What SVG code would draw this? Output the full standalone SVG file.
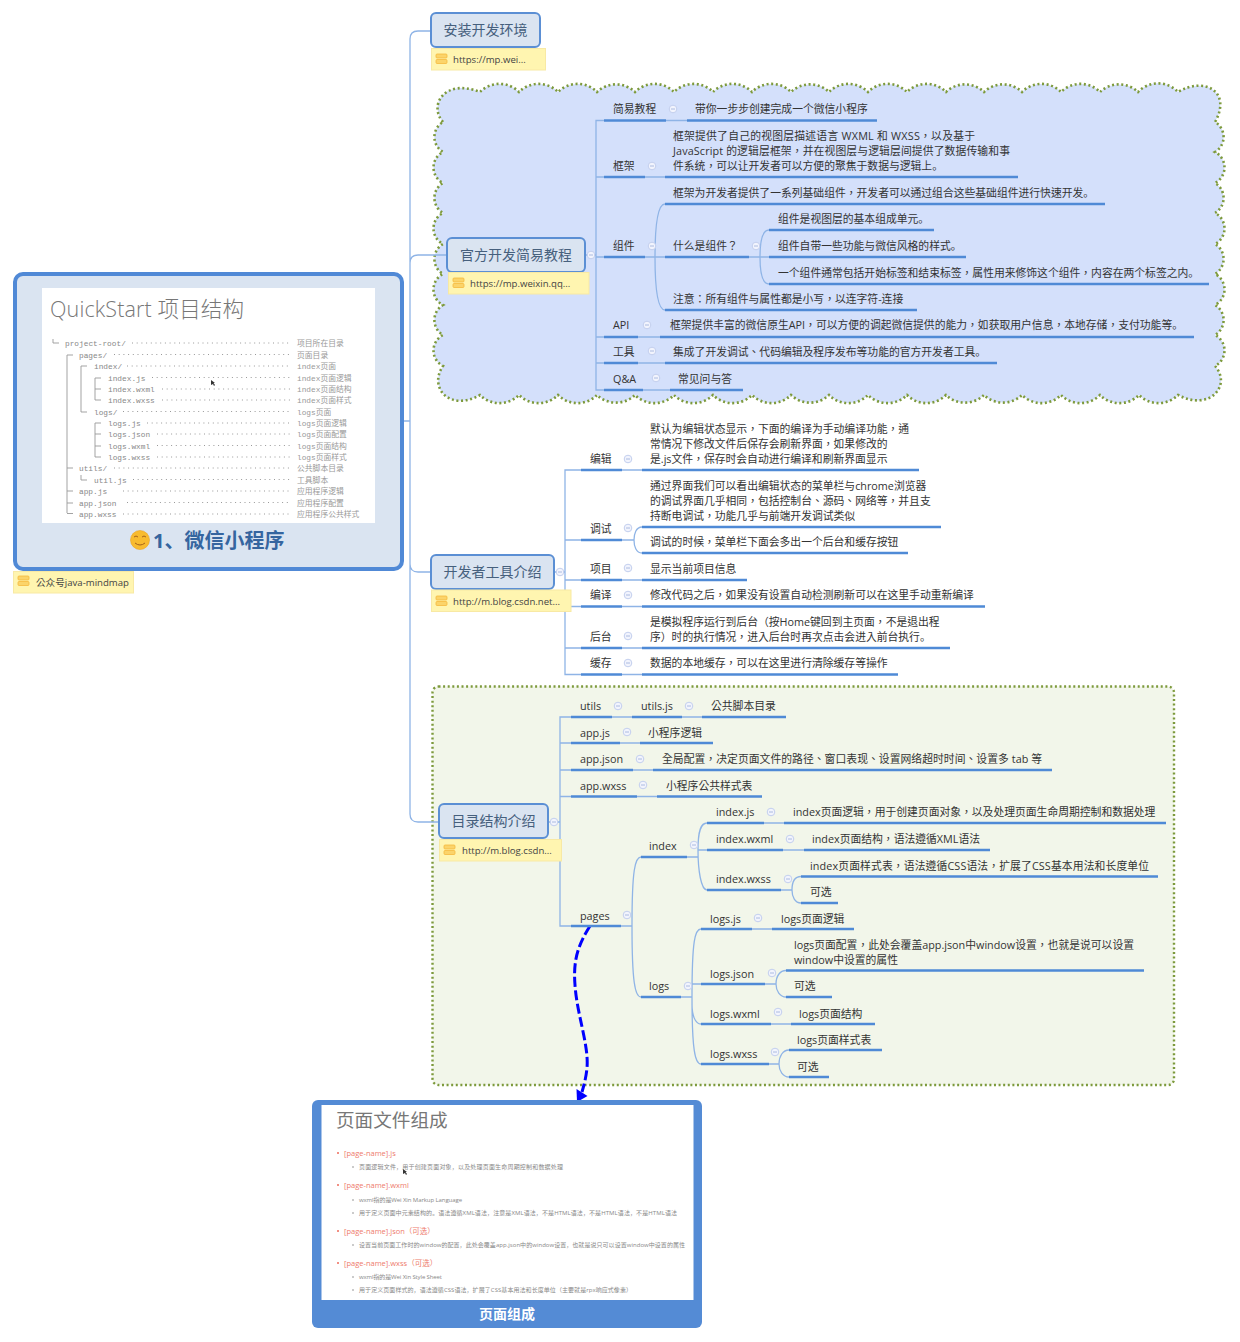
<svg xmlns="http://www.w3.org/2000/svg" width="1240" height="1342" viewBox="0 0 1240 1342">
<style>
text{font-family:"Open Sans","Noto Sans CJK TC",sans-serif;font-size:10.8px;fill:#333}
g[id^="n-"]>text{transform:translateY(-.2px)}
.sc,.sm,.rd,.cap{font-family:"Open Sans","Noto Sans CJK SC",sans-serif}
.u{stroke:#4f8ad6;stroke-width:2.4;fill:none}
.l{stroke:#8fb4e6;stroke-width:1.3;fill:none}
.n{fill:#dae4f1;stroke:#5b8fd4;stroke-width:2}
.nt{font-size:14px;fill:#46607d;text-anchor:middle}
.note{fill:#fff5b0;stroke:#f8e9a4;stroke-width:1}
.nn{font-size:9.6px;fill:#444}
.cir{fill:#f2f4fd;stroke:#c3cfee;stroke-width:1}
.cim{stroke:#a3b4dc;stroke-width:.9}
.mono,.zh{font-family:"Liberation Mono","Noto Sans CJK SC",monospace;font-size:7.8px;fill:#888}
.zh{fill:#999}
.tr{stroke:#999;stroke-width:.9;fill:none}
.dots{stroke:#999;stroke-width:1;stroke-dasharray:1 3.7;fill:none}
.rd{font-size:7.5px;fill:#ee7b6c}
.sm{font-size:6px;fill:#888}
.ic{fill:#fbd46a;stroke:#f5b93c;stroke-width:.8}
</style>
<defs>
<g id="c"><circle class="cir" r="3.8"/><path class="cim" d="M-2 0H2"/></g>
<g id="ni"><rect class="ic" x="0" y="0" width="11" height="4" rx="1"/><rect class="ic" x="0" y="5.5" width="11" height="4" rx="1"/></g>
</defs>

<path id="cloud" fill="#d4e0fb" stroke="#7d9a3c" stroke-width="2.6" stroke-dasharray="2 2.6" d="M443 122 C428 105 445 78 480 92 A27.5 27.5 0 0 1 519 92 A27.5 27.5 0 0 1 558 92 A27.5 27.5 0 0 1 597 92 A27.5 27.5 0 0 1 635 92 A27.5 27.5 0 0 1 674 92 A27.5 27.5 0 0 1 713 92 A27.5 27.5 0 0 1 752 92 A27.5 27.5 0 0 1 791 92 A27.5 27.5 0 0 1 829 92 A27.5 27.5 0 0 1 868 92 A27.5 27.5 0 0 1 907 92 A27.5 27.5 0 0 1 946 92 A27.5 27.5 0 0 1 984 92 A27.5 27.5 0 0 1 1022 92 A27.5 27.5 0 0 1 1061 92 A27.5 27.5 0 0 1 1100 92 A27.5 27.5 0 0 1 1138 92 A27.5 27.5 0 0 1 1178 92 C1205 76 1232 92 1215 122 A17.4 17.4 0 0 1 1215 152 A17.4 17.4 0 0 1 1215 183 A17.4 17.4 0 0 1 1215 213 A17.4 17.4 0 0 1 1215 244 A17.4 17.4 0 0 1 1215 274 A17.4 17.4 0 0 1 1215 305 A17.4 17.4 0 0 1 1215 335 A17.4 17.4 0 0 1 1215 366 C1232 385 1210 412 1178 395 A27.5 27.5 0 0 1 1139 395 A27.5 27.5 0 0 1 1100 395 A27.5 27.5 0 0 1 1061 395 A27.5 27.5 0 0 1 1022 395 A27.5 27.5 0 0 1 984 395 A27.5 27.5 0 0 1 946 395 A27.5 27.5 0 0 1 907 395 A27.5 27.5 0 0 1 868 395 A27.5 27.5 0 0 1 829 395 A27.5 27.5 0 0 1 791 395 A27.5 27.5 0 0 1 752 395 A27.5 27.5 0 0 1 713 395 A27.5 27.5 0 0 1 674 395 A27.5 27.5 0 0 1 635 395 A27.5 27.5 0 0 1 597 395 A27.5 27.5 0 0 1 558 395 A27.5 27.5 0 0 1 519 395 A27.5 27.5 0 0 1 480 395 C450 412 428 388 443 366 A17.4 17.4 0 0 1 443 335 A17.4 17.4 0 0 1 443 305 A17.4 17.4 0 0 1 443 274 A17.4 17.4 0 0 1 443 244 A17.4 17.4 0 0 1 443 213 A17.4 17.4 0 0 1 443 183 A17.4 17.4 0 0 1 443 152 A17.4 17.4 0 0 1 443 122Z"/>
<rect id="greenbox" x="432.500" y="686.500" width="741.500" height="398.500" rx="6" fill="#f2f6ea" stroke="#7d9a3c" stroke-width="2.4" stroke-dasharray="2 2.6"/>

<g id="connectors">
<path class="l" d="M402 421H410M431 31H418Q410 31 410 39V814Q410 822 418 822H438M447 255H418Q410 255 410 263M430 572H418Q410 572 410 564"/>
<path class="l" d="M585 255H596M604 120.500H596V390H604M596 177H604M596 257H604M596 337H604M596 363H604"/>
<path class="l" d="M666 120.500H687M645 177H665M645 257H665M665 204C658 204 655 225 655 257C655 289 658 310 665 310M749 257H769M769 230C762 230 760 243 760 257C760 271 762 284 769 284M638 337H660M638 363H665M643 390H670"/>
<path class="l" d="M554 572H565M581 470H565V674.500H581M565 540H581M565 580H581M565 606.500H581M565 648H581"/>
<path class="l" d="M622 470H642M622 540H634M642 527C636 527 634 534 634 540C634 546 636 553 642 553M622 580H642M622 606.500H642M622 648H642M622 674.500H642"/>
<path class="l" d="M548 822H560M571 717H560V926H571M560 743H571M560 770H571M560 796.500H571"/>
<path class="l" d="M612 717H632M682 717H702M620 743H640M633 770H653M637 796.500H657"/>
<path class="l" d="M621 926H632M641 857C635 857 632 870 632 926C632 982 635 997 641 997M687 857H698M707 823C701 823 698 830 698 850C698 870 701 890 707 890M698 850H707M764 823H784M783 850H804M781 890H792M801 876.500C795 876.500 792 882 792 890C792 897 795 903 801 903"/>
<path class="l" d="M681 997H692M701 929C695 929 692 940 692 997C692 1050 695 1064 701 1064M692 984H701M692 1004C692 1015 695 1024 701 1024M752 929H772M765 984H776M786 970.500C780 970.500 776 976 776 984C776 991 780 997 786 997M771 1024H791M769 1064H779M789 1050C783 1050 779 1056 779 1064C779 1071 783 1077 789 1077"/>
<path d="M590 926C578 945 573 960 575 985C577 1015 589 1045 587 1068C586 1078 584 1085 582 1092" fill="none" stroke="#0000ff" stroke-width="3" stroke-dasharray="10 3.500"/>
<polygon points="576.500,1089 587.500,1096 577,1102" fill="#0000ff"/>
</g>

<g id="root">
<rect x="15" y="274" width="387" height="295" rx="8" fill="#dae4f1" stroke="#5089d6" stroke-width="4"/>
<rect x="42" y="288" width="333" height="235" fill="#fff"/>
<text class="cap" x="50" y="317" textLength="194" style="font-size:21.500px;fill:#777;font-weight:300">QuickStart 项目结构</text>
<path class="tr" d="M53 339V343H59M67 355V513M67 355H73M67 468H73M67 491H73M67 503H73M67 513.500H73M81 366V412M81 366H87M81 412H87M95 378V400M95 378H101M95 389H101M95 400H101M95 423V457M95 423H101M95 434H101M95 446H101M95 457H101M81 475V480H87"/>
<path class="dots" d="M132 343H291M114 354.500H291M127 366H291M152 377.500H291M162 389H291M162 400H291M123 411.500H291M147 423H291M157 434H291M157 445.500H291M157 457H291M114 468H291M133 479.500H291M123 491H291M127 502.500H291M123 514H291"/>
<text class="mono" x="65" y="346">project-root/</text><text class="zh" x="297" y="346">项目所在目录</text>
<text class="mono" x="79" y="358">pages/</text><text class="zh" x="297" y="358">页面目录</text>
<text class="mono" x="94" y="369">index/</text><text class="zh" x="297" y="369">index页面</text>
<text class="mono" x="108" y="381">index.js</text><text class="zh" x="297" y="381">index页面逻辑</text>
<text class="mono" x="108" y="392">index.wxml</text><text class="zh" x="297" y="392">index页面结构</text>
<text class="mono" x="108" y="403">index.wxss</text><text class="zh" x="297" y="403">index页面样式</text>
<text class="mono" x="94" y="415">logs/</text><text class="zh" x="297" y="415">logs页面</text>
<text class="mono" x="108" y="426">logs.js</text><text class="zh" x="297" y="426">logs页面逻辑</text>
<text class="mono" x="108" y="437">logs.json</text><text class="zh" x="297" y="437">logs页面配置</text>
<text class="mono" x="108" y="449">logs.wxml</text><text class="zh" x="297" y="449">logs页面结构</text>
<text class="mono" x="108" y="460">logs.wxss</text><text class="zh" x="297" y="460">logs页面样式</text>
<text class="mono" x="79" y="471">utils/</text><text class="zh" x="297" y="471">公共脚本目录</text>
<text class="mono" x="94" y="483">util.js</text><text class="zh" x="297" y="483">工具脚本</text>
<text class="mono" x="79" y="494">app.js</text><text class="zh" x="297" y="494">应用程序逻辑</text>
<text class="mono" x="79" y="506">app.json</text><text class="zh" x="297" y="506">应用程序配置</text>
<text class="mono" x="79" y="517">app.wxss</text><text class="zh" x="297" y="517">应用程序公共样式</text>
<polygon points="211,380 211,385 213,384 214,386 215,385 213.500,383 215,383" fill="#333"/>
<circle cx="140" cy="540" r="9.500" fill="#f8bb2e" stroke="#eda21c" stroke-width=".6"/>
<path d="M134 537q2-2 4 0M142 537q2-2 4 0M135 543q5 4 10 0" fill="none" stroke="#a5621a" stroke-width="1"/>
<text class="cap" x="153" y="548" style="font-size:20px;font-weight:700;fill:#35659f">1、微信小程序</text>
<rect class="note" x="13.500" y="571.500" width="120" height="21.500"/>
<use href="#ni" x="18" y="576"/>
<text class="nn" x="36" y="586">公众号java-mindmap</text>
</g>

<g id="n-install">
<rect class="n" x="431" y="13" width="109" height="34" rx="5"/><text class="nt" x="485.500" y="35.500">安装开发环境</text>
<rect class="note" x="431.500" y="48.500" width="114" height="21.500"/><use href="#ni" x="436" y="54"/>
<text class="nn" x="453" y="63">https://mp.wei...</text>
</g>
<g id="n-official">
<rect class="n" x="447" y="238" width="138" height="34" rx="5"/><text class="nt" x="516" y="260">官方开发简易教程</text>
<rect class="note" x="448.500" y="272.500" width="140.500" height="21.500"/><use href="#ni" x="453" y="278"/>
<text class="nn" x="470" y="287">https://mp.weixin.qq...</text>
<use href="#c" x="591" y="255"/>
</g>
<g id="n-devtools">
<rect class="n" x="431" y="555" width="123" height="34" rx="5"/><text class="nt" x="492.500" y="577">开发者工具介绍</text>
<rect class="note" x="431.500" y="590" width="139.500" height="21.500"/><use href="#ni" x="436" y="596"/>
<text class="nn" x="453" y="605">http://m.blog.csdn.net...</text>
<use href="#c" x="560" y="572"/>
</g>
<g id="n-dirs">
<rect class="n" x="439" y="804" width="109" height="34" rx="5"/><text class="nt" x="493.500" y="826">目录结构介绍</text>
<rect class="note" x="439.500" y="839.500" width="122" height="21.500"/><use href="#ni" x="444" y="845"/>
<text class="nn" x="462" y="854">http://m.blog.csdn...</text>
<use href="#c" x="554" y="822"/>
</g>

<g id="n-tut"><path class="u" d="M604 120.500H666M687 120.500H877"/><text x="613" y="113">简易教程</text><use href="#c" x="673" y="109"/><text x="695" y="113">带你一步步创建完成一个微信小程序</text></g>
<g id="n-frame"><path class="u" d="M604 177H645M665 177H1018"/><text x="613" y="170">框架</text><use href="#c" x="652" y="166"/>
<text x="673" y="140" textLength="302">框架提供了自己的视图层描述语言 WXML 和 WXSS，以及基于</text><text x="673" y="155" textLength="337">JavaScript 的逻辑层框架，并在视图层与逻辑层间提供了数据传输和事</text><text x="673" y="170">件系统，可以让开发者可以方便的聚焦于数据与逻辑上<tspan class="sc">。</tspan></text></g>
<g id="n-comp"><path class="u" d="M604 257H645M665 204H1105M665 257H749M769 230H934M769 257H966M769 284H1209M665 310H917"/><text x="613" y="250">组件</text><use href="#c" x="652" y="246"/>
<text x="673" y="197">框架为开发者提供了一系列基础组件，开发者可以通过组合这些基础组件进行快速开发<tspan class="sc">。</tspan></text>
<text x="673" y="250">什么是组件？</text><use href="#c" x="756" y="246"/>
<text x="778" y="223">组件是视图层的基本组成单元<tspan class="sc">。</tspan></text><text x="778" y="250">组件自带一些功能与微信风格的样式<tspan class="sc">。</tspan></text><text x="778" y="277">一个组件通常包括开始标签和结束标签，属性用来修饰这个组件，内容在两个标签之内<tspan class="sc">。</tspan></text>
<text x="673" y="303">注意：所有组件与属性都是小写，以连字符-连接</text></g>
<g id="n-api"><path class="u" d="M604 337H638M660 337H1194"/><text x="613" y="329">API</text><use href="#c" x="647" y="325"/><text x="670" y="329">框架提供丰富的微信原生API，可以方便的调起微信提供的能力，如获取用户信息，本地存储，支付功能等<tspan class="sc">。</tspan></text></g>
<g id="n-tools"><path class="u" d="M604 363H638M665 363H997"/><text x="613" y="356">工具</text><use href="#c" x="652" y="351"/><text x="673" y="356">集成了开发调试、代码编辑及程序发布等功能的官方开发者工具<tspan class="sc">。</tspan></text></g>
<g id="n-qa"><path class="u" d="M604 390H643M670 390H743"/><text x="613" y="383">Q&amp;A</text><use href="#c" x="656" y="378"/><text x="678" y="383">常见问与答</text></g>

<g id="n-edit"><path class="u" d="M581 470H622M642 470H919"/><text x="590" y="463">编辑</text><use href="#c" x="628" y="459"/><text x="650" y="433">默认为编辑状态显示，下面的编译为手动编译功能，通</text><text x="650" y="448">常情况下修改文件后保存会刷新界面，如果修改的</text><text x="650" y="463">是.js文件，保存时会自动进行编译和刷新界面显示</text></g>
<g id="n-debug"><path class="u" d="M581 540H622M642 527H941M642 553H908"/><text x="590" y="533">调试</text><use href="#c" x="628" y="528"/><text x="650" y="490">通过界面我们可以看出编辑状态的菜单栏与chrome浏览器</text><text x="650" y="505">的调试界面几乎相同，包括控制台、源码、网络等，并且支</text><text x="650" y="520">持断电调试，功能几乎与前端开发调试类似</text><text x="650" y="546">调试的时候，菜单栏下面会多出一个后台和缓存按钮</text></g>
<g id="n-proj"><path class="u" d="M581 580H622M642 580H747"/><text x="590" y="573">项目</text><use href="#c" x="628" y="568"/><text x="650" y="573">显示当前项目信息</text></g>
<g id="n-comp2"><path class="u" d="M581 606.500H622M642 606.500H985"/><text x="590" y="599">编译</text><use href="#c" x="628" y="595"/><text x="650" y="599">修改代码之后，如果没有设置自动检测刷新可以在这里手动重新编译</text></g>
<g id="n-bg"><path class="u" d="M581 648H622M642 648H950"/><text x="590" y="641">后台</text><use href="#c" x="628" y="636"/><text x="650" y="626">是模拟程序运行到后台（按Home键回到主页面，不是退出程</text><text x="650" y="641">序）时的执行情况，进入后台时再次点击会进入前台执行<tspan class="sc">。</tspan></text></g>
<g id="n-cache"><path class="u" d="M581 674.500H622M642 674.500H898"/><text x="590" y="667">缓存</text><use href="#c" x="628" y="663"/><text x="650" y="667">数据的本地缓存，可以在这里进行清除缓存等操作</text></g>

<g id="n-utils"><path class="u" d="M571 717H612M632 717H682M702 717H786"/><text x="580" y="710">utils</text><use href="#c" x="618" y="706"/><text x="641" y="710">utils.js</text><use href="#c" x="689" y="706"/><text x="711" y="710">公共脚本目录</text></g>
<g id="n-appjs"><path class="u" d="M571 743H620M640 743H713"/><text x="580" y="737">app.js</text><use href="#c" x="627" y="732"/><text x="648" y="737">小程序逻辑</text></g>
<g id="n-appjson"><path class="u" d="M571 770H633M653 770H1052"/><text x="580" y="763">app.json</text><use href="#c" x="640" y="759"/><text x="662" y="763" textLength="380">全局配置，决定页面文件的路径、窗口表现、设置网络超时时间、设置多 tab 等</text></g>
<g id="n-appwxss"><path class="u" d="M571 796.500H637M657 796.500H762"/><text x="580" y="790">app.wxss</text><use href="#c" x="643" y="785"/><text x="666" y="790">小程序公共样式表</text></g>
<g id="n-pages"><path class="u" d="M571 926H621"/><text x="580" y="920">pages</text><use href="#c" x="627" y="915"/></g>
<g id="n-index"><path class="u" d="M641 857H687"/><text x="649" y="850">index</text><use href="#c" x="694" y="845"/></g>
<g id="n-indexjs"><path class="u" d="M707 823H764M784 823H1166"/><text x="716" y="816">index.js</text><use href="#c" x="771" y="812"/><text x="793" y="816">index页面逻辑，用于创建页面对象，以及处理页面生命周期控制和数据处理</text></g>
<g id="n-indexwxml"><path class="u" d="M707 850H783M804 850H990"/><text x="716" y="843">index.wxml</text><use href="#c" x="790" y="839"/><text x="812" y="843">index页面结构，语法遵循XML语法</text></g>
<g id="n-indexwxss"><path class="u" d="M707 890H781M801 876.500H1158M801 903H838"/><text x="716" y="883">index.wxss</text><use href="#c" x="788" y="879"/><text x="810" y="870" textLength="339">index页面样式表，语法遵循CSS语法，扩展了CSS基本用法和长度单位</text><text x="810" y="896">可选</text></g>
<g id="n-logs"><path class="u" d="M641 997H681"/><text x="649" y="990">logs</text><use href="#c" x="688" y="986"/></g>
<g id="n-logsjs"><path class="u" d="M701 929H752M772 929H854"/><text x="710" y="923">logs.js</text><use href="#c" x="758" y="918"/><text x="781" y="923">logs页面逻辑</text></g>
<g id="n-logsjson"><path class="u" d="M701 984H765M786 970.500H1144M786 997H832"/><text x="710" y="978">logs.json</text><use href="#c" x="772" y="973"/><text x="794" y="949">logs页面配置，此处会覆盖app.json中window设置，也就是说可以设置</text><text x="794" y="964">window中设置的属性</text><text x="794" y="990">可选</text></g>
<g id="n-logswxml"><path class="u" d="M701 1024H771M791 1024H875"/><text x="710" y="1018">logs.wxml</text><use href="#c" x="778" y="1012"/><text x="799" y="1018">logs页面结构</text></g>
<g id="n-logswxss"><path class="u" d="M701 1064H769M789 1050H882M789 1077H829"/><text x="710" y="1058">logs.wxss</text><use href="#c" x="775" y="1052"/><text x="797" y="1044">logs页面样式表</text><text x="797" y="1071">可选</text></g>

<g id="page">
<rect x="312" y="1100" width="390" height="228" rx="6" fill="#548bd5"/>
<rect x="321.500" y="1105" width="372" height="195" fill="#fff"/>
<text class="cap" x="336" y="1126.500" style="font-size:18.600px;fill:#777">页面文件组成</text>
<g fill="#ee6a5a"><circle cx="338" cy="1153" r="1"/><circle cx="338" cy="1185" r="1"/><circle cx="338" cy="1231" r="1"/><circle cx="338" cy="1263" r="1"/></g>
<g fill="#888"><circle cx="353" cy="1167" r=".8"/><circle cx="353" cy="1200" r=".8"/><circle cx="353" cy="1213" r=".8"/><circle cx="353" cy="1245" r=".8"/><circle cx="353" cy="1277" r=".8"/><circle cx="353" cy="1290" r=".8"/></g>
<text class="rd" x="344" y="1155.500">[page-name].js</text>
<text class="sm" x="359" y="1169" textLength="204">页面逻辑文件，用于创建页面对象，以及处理页面生命周期控制和数据处理</text>
<text class="rd" x="344" y="1187.500">[page-name].wxml</text>
<text class="sm" x="359" y="1202" textLength="103">wxml指的是Wei Xin Markup Language</text>
<text class="sm" x="359" y="1215" textLength="318">用于定义页面中元素结构的。语法遵循XML语法，注意是XML语法，不是HTML语法，不是HTML语法，不是HTML语法</text>
<text class="rd" x="344" y="1233.500">[page-name].json（可选）</text>
<text class="sm" x="359" y="1247" textLength="326">设置当前页面工作时的window的配置，此处会覆盖app.json中的window设置，也就是说只可以设置window中设置的属性</text>
<text class="rd" x="344" y="1265.500">[page-name].wxss（可选）</text>
<text class="sm" x="359" y="1279" textLength="83">wxml指的是Wei Xin Style Sheet</text>
<text class="sm" x="359" y="1292" textLength="273">用于定义页面样式的，语法遵循CSS语法，扩展了CSS基本用法和长度单位（主要就是rpx响应式像素）</text>
<polygon points="403,1169 403,1174 405,1173 406,1175 407,1174 405.500,1172 407,1172" fill="#333"/>
<text class="cap" x="507" y="1319" text-anchor="middle" style="font-size:14px;font-weight:700;fill:#fff">页面组成</text>
</g>
</svg>
